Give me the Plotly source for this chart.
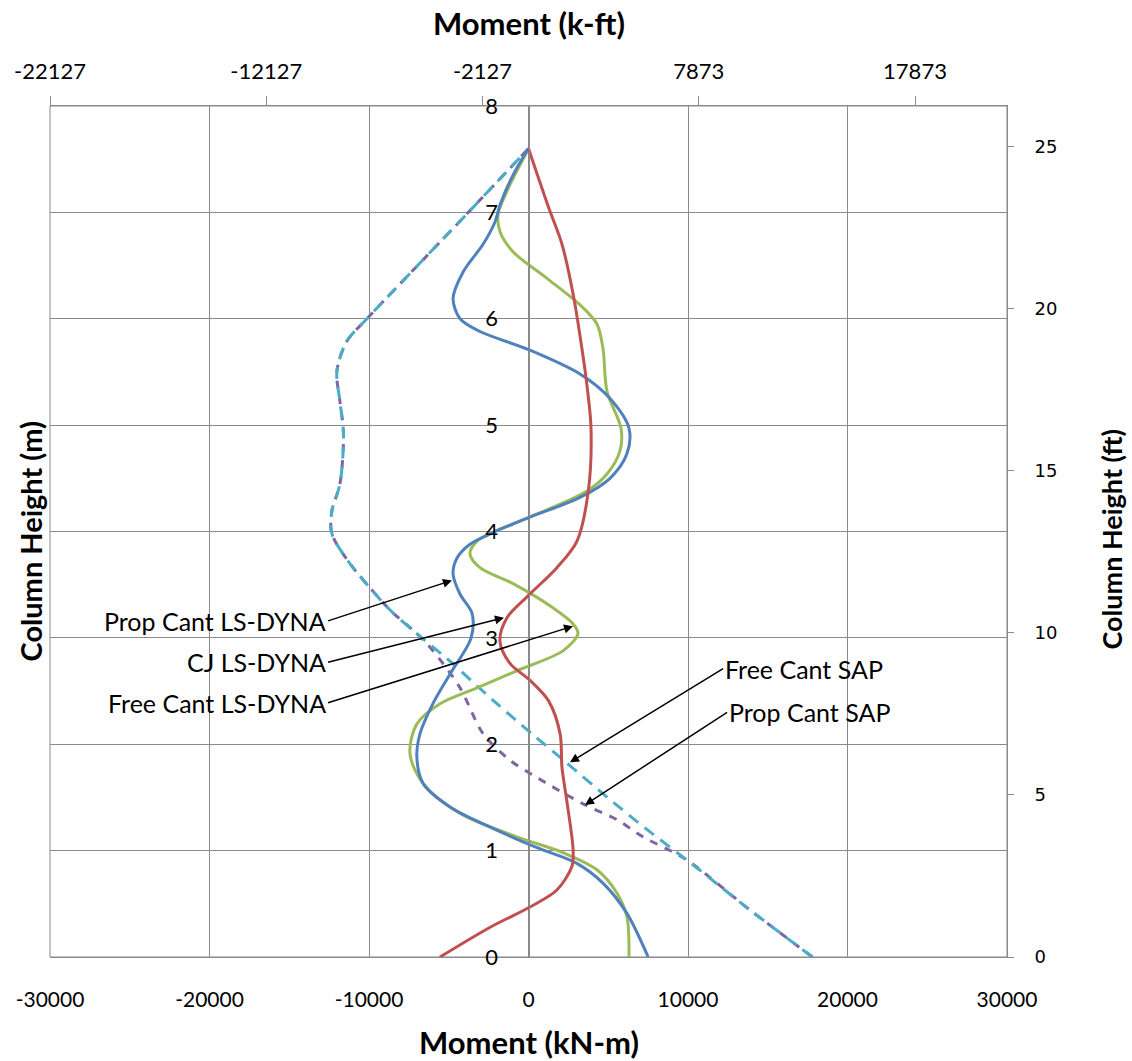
import plotly.graph_objects as go

# ---------------- data ----------------
# CJ LS-DYNA (red)
h_cj = [0, 0.28, 0.47, 0.63, 0.85, 1.0, 1.47, 1.78, 2.10, 2.41, 2.60, 2.76, 2.97, 3.19, 3.40,
        3.66, 3.91, 4.38, 4.97, 5.38, 5.72, 6.23, 6.70, 7.05, 7.6]
m_cj = [-5550, -2400, 90, 1780, 2720, 2800, 2400, 2100, 1980, 1250, 100, -1160, -1790, -1350, 0,
        1780, 3040, 3750, 3920, 3660, 3350, 2800, 2100, 1250, 0]

# Prop Cant LS-DYNA (blue)
h_pc = [0, 0.41, 0.69, 0.88, 1.03, 1.22, 1.41, 1.63, 1.88, 2.10, 2.38, 2.66, 3.0, 3.23, 3.41,
        3.60, 3.75, 3.88, 3.99, 4.13, 4.32, 4.50, 4.73, 4.97, 5.25, 5.48, 5.71, 5.88, 6.00,
        6.19, 6.44, 6.70, 6.91, 7.07, 7.35, 7.6]
m_pc = [7500, 6170, 4700, 3030, 500, -2400, -4920, -6600, -7000, -6800, -6000, -4920, -3600,
        -3540, -4290, -4730, -4480, -3670, -2230, 0, 3230, 5110, 6170, 6300, 5110, 3230, 0,
        -3040, -4290, -4730, -4100, -2850, -2100, -1790, -970, 0]

# Free Cant LS-DYNA (green)
h_fc = [0, 0.38, 0.60, 0.82, 0.98, 1.13, 1.35, 1.63, 1.91, 2.19, 2.38, 2.53, 2.69, 2.88, 3.04,
        3.13, 3.32, 3.51, 3.66, 3.79, 3.91, 4.01, 4.13, 4.38, 4.54, 4.76, 4.97, 5.32, 5.72,
        5.95, 6.13, 6.38, 6.63, 6.82, 6.98, 7.20, 7.6]
m_fc = [6300, 6170, 5550, 4290, 2180, -740, -4290, -6600, -7430, -7000, -5550, -3230, -740,
        2180, 3100, 2800, 1160, -970, -3040, -3670, -3230, -1980, 0, 3670, 4920, 5740, 5800,
        4920, 4670, 4290, 3230, 1160, -970, -1790, -1910, -1350, 0]

# Free Cant SAP (aqua, dashed)
h_fs = [0, 0.44, 0.88, 1.19, 1.50, 1.83, 2.10, 2.41, 2.79, 3.04, 3.25, 3.47, 3.72, 3.98,
        4.19, 4.45, 4.92, 5.22, 5.51, 5.79, 6.00, 6.54, 6.98, 7.6]
m_fs = [17800, 13900, 10200, 7500, 4950, 2350, 200, -2200, -5000, -7000, -8600, -9940, -11300,
        -12330, -12330, -11820, -11600, -11820, -12010, -11380, -10130, -6700, -3900, 0]

# Prop Cant SAP (purple, dashed)
h_ps = [0, 0.44, 0.92, 1.13, 1.29, 1.44, 1.69, 1.85, 2.10, 2.53, 2.88, 3.04, 3.25, 3.47, 3.72,
        3.98, 4.19, 4.45, 4.92, 5.22, 5.51, 5.79, 6.00, 6.54, 6.98, 7.6]
m_ps = [17800, 13900, 9850, 7170, 5550, 3420, 500, -1160, -2850, -4290, -6000, -7000, -8600,
        -9940, -11300, -12330, -12330, -11820, -11600, -11820, -12010, -11380, -10130, -6700,
        -3900, 0]

kn_ticks = [-30000, -20000, -10000, 0, 10000, 20000, 30000]
kft_ticks = [-22127, -12127, -2127, 7873, 17873]
m_ticks = [0, 1, 2, 3, 4, 5, 6, 7, 8]
ft_ticks = [0, 5, 10, 15, 20, 25]

# ---------------- figure ----------------
GRID = "#8a8a8a"
FONT = "Lato, Carlito, Calibri, sans-serif"

fig = go.Figure()

def add(x, y, name, color, dash, width=3):
    fig.add_trace(go.Scatter(
        x=x, y=y, mode="lines", name=name,
        line=dict(color=color, width=width, shape="spline", smoothing=0.9, dash=dash),
        xaxis="x", yaxis="y", hoverinfo="skip"))

add(m_ps, h_ps, "Prop Cant SAP", "#8064A2", "8px,8px", 3)
add(m_fs, h_fs, "Free Cant SAP", "#4BACC6", "12px,8px", 3)
add(m_fc, h_fc, "Free Cant LS-DYNA", "#9BBB59", "solid")
add(m_pc, h_pc, "Prop Cant LS-DYNA", "#4F81BD", "solid")
add(m_cj, h_cj, "CJ LS-DYNA", "#C0504D", "solid")

# invisible trace to activate secondary axes
fig.add_trace(go.Scatter(x=[None], y=[None], xaxis="x2", yaxis="y2",
                         showlegend=False, hoverinfo="skip"))

fig.update_layout(
    width=1132, height=1061,
    margin=dict(l=50, r=125, t=106, b=104),
    paper_bgcolor="white", plot_bgcolor="white",
    showlegend=False,
    font=dict(family=FONT, color="#000000", size=20),
    xaxis=dict(range=[-30000, 30000], tickvals=kn_ticks,
               ticktext=[str(v) for v in kn_ticks],
               showgrid=True, gridcolor=GRID, gridwidth=1, zeroline=False,
               showline=True, linecolor=GRID, linewidth=1, ticks="",
               ticklabelstandoff=24, tickfont=dict(size=21)),
    xaxis2=dict(overlaying="x", side="top", anchor="y", range=[-22127, 22127],
                tickvals=kft_ticks, ticktext=[str(v) for v in kft_ticks],
                ticks="outside", ticklen=9, tickcolor=GRID, showgrid=False,
                zeroline=False, showline=True, linecolor=GRID,
                ticklabelstandoff=8, tickfont=dict(size=22)),
    yaxis=dict(range=[0, 8], tickvals=m_ticks, anchor="free", position=0.5,
               showgrid=True, gridcolor=GRID, gridwidth=1, zeroline=False,
               showline=True, linecolor=GRID, ticks="", ticklabelstandoff=26,
               tickfont=dict(size=22)),
    yaxis2=dict(overlaying="y", side="right", anchor="x", range=[0, 8 / 0.3048],
                tickvals=ft_ticks, ticks="outside", ticklen=6, tickcolor=GRID,
                showgrid=False, zeroline=False, showline=True, linecolor=GRID,
                ticklabelstandoff=17,
                tickfont=dict(family="DejaVu Sans, Verdana, sans-serif", size=18)),
)

# plot-area frame
fig.add_shape(type="rect", xref="paper", yref="paper", x0=0, x1=1, y0=0, y1=1,
              line=dict(color=GRID, width=1), layer="below")

# axis titles
title_font = dict(family=FONT, size=31, color="#000000")
fig.add_annotation(text="<b>Moment (k-ft)</b>", xref="paper", yref="paper", x=0.5, y=1,
                   yanchor="middle", yshift=83, showarrow=False, font=title_font)
fig.add_annotation(text="<b>Moment (kN-m)</b>", xref="paper", yref="paper", x=0.5, y=0,
                   yanchor="middle", yshift=-85, showarrow=False, font=title_font)
fig.add_annotation(text="<b>Column Height (m)</b>", xref="paper", yref="paper", x=0, y=0.5,
                   xanchor="center", xshift=-20, yshift=-10, textangle=-90,
                   showarrow=False, font=dict(family=FONT, size=29, color="#000000"))
fig.add_annotation(text="<b>Column Height (ft)</b>", xref="paper", yref="paper", x=1, y=0.5,
                   xanchor="center", xshift=104, yshift=-8, textangle=-90,
                   showarrow=False, font=dict(family=FONT, size=27, color="#000000"))

# callouts
callouts = [
    ("Prop Cant LS-DYNA", -4800, 3.54, -12570, 3.16, "right"),
    ("CJ LS-DYNA", -1540, 3.19, -12570, 2.77, "right"),
    ("Free Cant LS-DYNA", 2790, 3.11, -12570, 2.39, "right"),
    ("Free Cant SAP", 2600, 1.83, 12200, 2.71, "left"),
    ("Prop Cant SAP", 3540, 1.43, 12450, 2.30, "left"),
]
for txt, hx, hy, tx, ty, anc in callouts:
    fig.add_annotation(text=txt, x=hx, y=hy, ax=tx, ay=ty, xref="x", yref="y",
                       axref="x", ayref="y", showarrow=True, arrowhead=2, arrowsize=1.2,
                       arrowwidth=1.5, arrowcolor="#000000", xanchor=anc,
                       font=dict(family=FONT, size=25, color="#000000"))

fig.write_html("out.html")
